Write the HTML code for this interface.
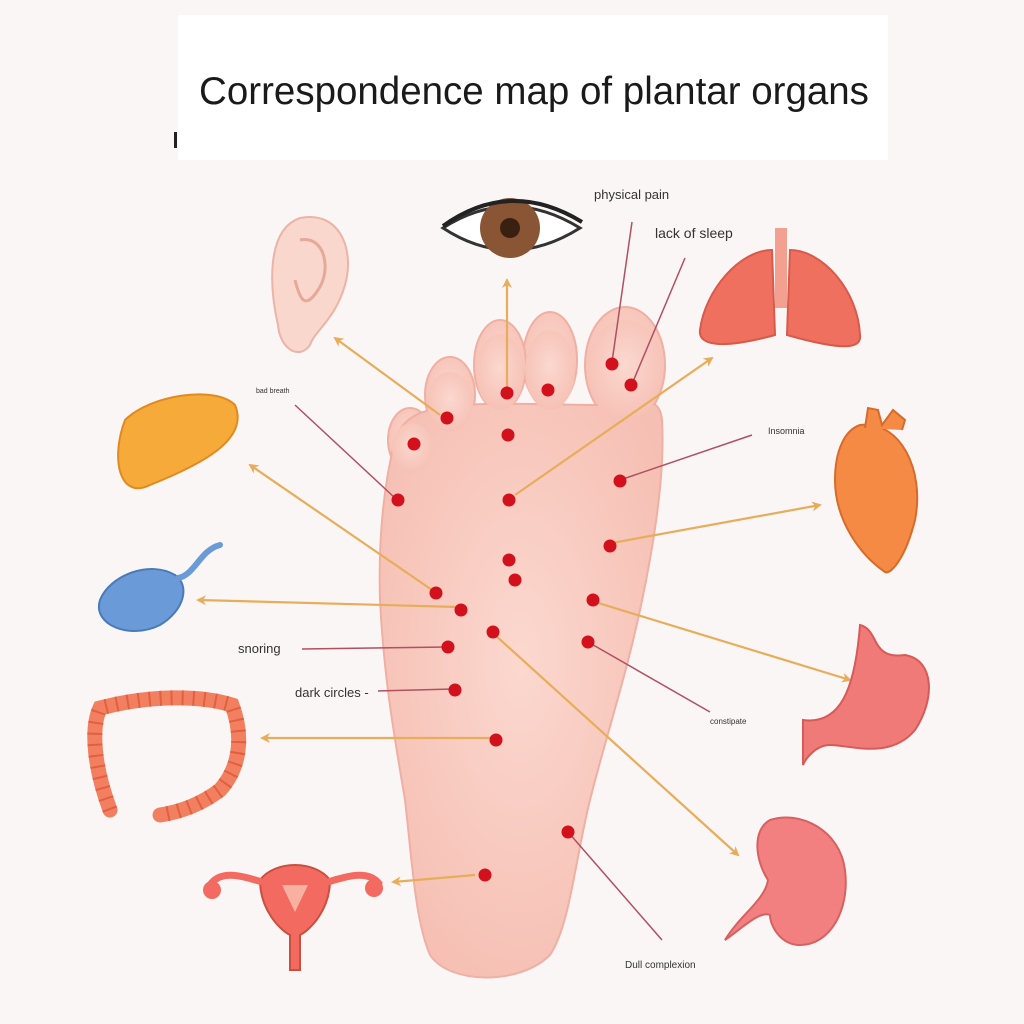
<!DOCTYPE html>
<html><head><meta charset="utf-8"><style>
html,body{margin:0;padding:0;background:#fbf6f6;}
svg{display:block}
text{font-family:"Liberation Sans",sans-serif;}
</style></head><body>
<svg width="1024" height="1024" viewBox="0 0 1024 1024" xmlns="http://www.w3.org/2000/svg">
<defs>
<marker id="ah" markerWidth="10" markerHeight="10" refX="8" refY="5" orient="auto" markerUnits="userSpaceOnUse">
<path d="M0,0 L10,5 L0,10 L3,5 Z" fill="#e7ad5a"/></marker>
<radialGradient id="fg" cx="50%" cy="45%" r="60%"><stop offset="0" stop-color="#fbd8cf"/><stop offset="1" stop-color="#f6bfb3"/></radialGradient>
</defs>
<rect width="1024" height="1024" fill="#fbf6f6"/>
<rect x="178" y="15" width="710" height="145" fill="#ffffff"/>
<text x="534" y="104" font-size="38.5" text-anchor="middle" fill="#1a1a1a">Correspondence map of plantar organs</text>
<rect x="174" y="132" width="3" height="16" fill="#222"/>

<!-- foot -->
<g fill="url(#fg)" stroke="#efb0a3" stroke-width="2">
<ellipse cx="625" cy="365" rx="40" ry="58"/>
<ellipse cx="550" cy="360" rx="27" ry="48"/>
<ellipse cx="500" cy="365" rx="26" ry="45"/>
<ellipse cx="450" cy="395" rx="25" ry="38"/>
<ellipse cx="410" cy="440" rx="22" ry="32"/>
<path d="M395,440 C385,480 378,530 380,600 C384,680 395,740 405,800 C412,860 415,920 430,955 C450,985 520,985 550,955 C570,925 575,860 590,800 C605,740 625,680 640,610 C655,540 665,470 662,420 C660,395 640,400 600,405 C540,405 470,400 430,410 C410,415 400,425 395,440 Z"/>
</g>
<g fill="url(#fg)">
<ellipse cx="625" cy="370" rx="38" ry="50"/>
<ellipse cx="550" cy="370" rx="25" ry="40"/>
<ellipse cx="500" cy="372" rx="24" ry="38"/>
<ellipse cx="450" cy="402" rx="23" ry="30"/>
<ellipse cx="412" cy="448" rx="20" ry="25"/>
</g>

<!-- arrows -->
<g stroke="#e7ad5a" stroke-width="2.2" fill="none" marker-end="url(#ah)">
<line x1="440" y1="415" x2="335" y2="338"/>
<line x1="507" y1="390" x2="507" y2="280"/>
<line x1="515" y1="495" x2="712" y2="358"/>
<line x1="432" y1="590" x2="250" y2="465"/>
<line x1="458" y1="607" x2="198" y2="600"/>
<line x1="612" y1="543" x2="820" y2="505"/>
<line x1="595" y1="602" x2="850" y2="680"/>
<line x1="495" y1="635" x2="738" y2="855"/>
<line x1="490" y1="738" x2="262" y2="738"/>
<line x1="475" y1="875" x2="393" y2="882"/>
</g>
<g stroke="#b05060" stroke-width="1.5" fill="none">
<line x1="612" y1="362" x2="632" y2="222"/>
<line x1="632" y1="384" x2="685" y2="258"/>
<line x1="395" y1="498" x2="295" y2="405"/>
<line x1="620" y1="480" x2="752" y2="435"/>
<line x1="448" y1="647" x2="302" y2="649"/>
<line x1="453" y1="689" x2="378" y2="691"/>
<line x1="588" y1="642" x2="710" y2="712"/>
<line x1="568" y1="832" x2="662" y2="940"/>
</g>
<g fill="#d3111c">
<circle cx="612" cy="364" r="6.5"/><circle cx="631" cy="385" r="6.5"/>
<circle cx="507" cy="393" r="6.5"/><circle cx="548" cy="390" r="6.5"/>
<circle cx="447" cy="418" r="6.5"/><circle cx="414" cy="444" r="6.5"/>
<circle cx="508" cy="435" r="6.5"/><circle cx="398" cy="500" r="6.5"/>
<circle cx="509" cy="500" r="6.5"/><circle cx="620" cy="481" r="6.5"/>
<circle cx="610" cy="546" r="6.5"/><circle cx="509" cy="560" r="6.5"/>
<circle cx="515" cy="580" r="6.5"/><circle cx="436" cy="593" r="6.5"/>
<circle cx="461" cy="610" r="6.5"/><circle cx="593" cy="600" r="6.5"/>
<circle cx="493" cy="632" r="6.5"/><circle cx="448" cy="647" r="6.5"/>
<circle cx="588" cy="642" r="6.5"/><circle cx="455" cy="690" r="6.5"/>
<circle cx="496" cy="740" r="6.5"/><circle cx="568" cy="832" r="6.5"/>
<circle cx="485" cy="875" r="6.5"/>
</g>
<g fill="#333">
<text x="594" y="199" font-size="13">physical pain</text>
<text x="655" y="238" font-size="14">lack of sleep</text>
<text x="256" y="393" font-size="7">bad breath</text>
<text x="768" y="434" font-size="9">Insomnia</text>
<text x="238" y="653" font-size="13">snoring</text>
<text x="295" y="697" font-size="13">dark circles -</text>
<text x="710" y="724" font-size="8">constipate</text>
<text x="625" y="968" font-size="10">Dull complexion</text>
</g>

<!-- eye -->
<path d="M443,228 Q510,185 580,228 Q510,272 443,228 Z" fill="#fff" stroke="#333" stroke-width="3"/>
<circle cx="510" cy="228" r="30" fill="#8a5535"/><circle cx="510" cy="228" r="10" fill="#3a2010"/>
<path d="M443,226 Q510,178 582,222" stroke="#222" stroke-width="4" fill="none"/>
<!-- ear -->
<path d="M300,218 C340,210 355,250 345,285 C335,320 315,330 310,345 C300,360 280,350 278,325 C270,290 265,230 300,218 Z" fill="#f9d7cc" stroke="#eab4a6" stroke-width="2"/>
<path d="M300,240 C325,235 332,270 318,290 C305,310 300,300 295,280" stroke="#e6a898" stroke-width="3" fill="none"/>
<!-- lungs -->
<path d="M772,250 C740,250 705,290 700,330 C698,345 720,350 775,335 Z" fill="#f07060" stroke="#d85a4a" stroke-width="2"/>
<path d="M790,250 C822,250 858,290 860,335 C862,350 840,350 787,335 Z" fill="#f07060" stroke="#d85a4a" stroke-width="2"/>
<rect x="775" y="228" width="12" height="80" fill="#f4a090"/>
<!-- liver -->
<path d="M125,420 C150,395 215,385 235,405 C250,440 200,465 150,485 C120,500 110,460 125,420 Z" fill="#f5aa3a" stroke="#e08a20" stroke-width="2"/>
<!-- gallbladder -->
<path d="M100,600 C110,575 150,560 175,575 C190,585 185,610 160,625 C130,640 92,625 100,600 Z" fill="#6a9ad8" stroke="#4a7ab8" stroke-width="2"/>
<path d="M178,578 C195,575 200,550 220,545" stroke="#6a9ad8" stroke-width="6" fill="none" stroke-linecap="round"/>
<!-- heart -->
<path d="M860,425 C900,420 925,470 915,520 C905,560 890,575 885,572 C860,555 835,520 835,480 C835,450 845,430 860,425 Z" fill="#f58a45" stroke="#d86a2a" stroke-width="2"/>
<path d="M865,428 L868,408 L878,410 L882,425 L893,410 L905,420 L902,430" fill="#f58a45" stroke="#d86a2a" stroke-width="2"/>
<!-- stomach -->
<path d="M860,625 C880,630 870,660 905,655 C935,660 935,700 915,730 C890,760 850,745 830,745 C815,745 805,760 803,765 L803,720 C840,725 855,690 860,625 Z" fill="#f07a78" stroke="#d85a58" stroke-width="2"/>
<!-- intestines -->
<path d="M110,810 C95,770 90,730 100,708 C150,695 200,695 232,705 C245,740 238,770 220,790 C200,805 180,812 160,815" stroke="#f28060" stroke-width="15" fill="none" stroke-linecap="round"/>
<path d="M110,810 C95,770 90,730 100,708 C150,695 200,695 232,705 C245,740 238,770 220,790 C200,805 180,812 160,815" stroke="#e06040" stroke-width="15" fill="none" stroke-dasharray="2 9"/>
<!-- kidney -->
<path d="M770,820 C800,810 840,830 845,870 C850,910 830,945 800,945 C780,945 770,925 770,915 C760,910 740,930 725,940 C740,915 765,900 768,880 C755,860 752,830 770,820 Z" fill="#f28080" stroke="#d86060" stroke-width="2"/>
<!-- uterus -->
<path d="M260,880 C275,860 315,860 330,880 C330,910 310,930 300,935 L300,970 L290,970 L290,935 C280,930 260,910 260,880 Z" fill="#f26a60" stroke="#c85040" stroke-width="2"/>
<path d="M262,882 C240,875 220,870 210,885" stroke="#f26a60" stroke-width="7" fill="none"/>
<path d="M328,882 C350,875 370,870 380,885" stroke="#f26a60" stroke-width="7" fill="none"/>
<circle cx="212" cy="890" r="9" fill="#f26a60"/><circle cx="374" cy="888" r="9" fill="#f26a60"/>
<path d="M282,885 L308,885 L295,912 Z" fill="#f8b0a0"/>
</svg>
</body></html>
